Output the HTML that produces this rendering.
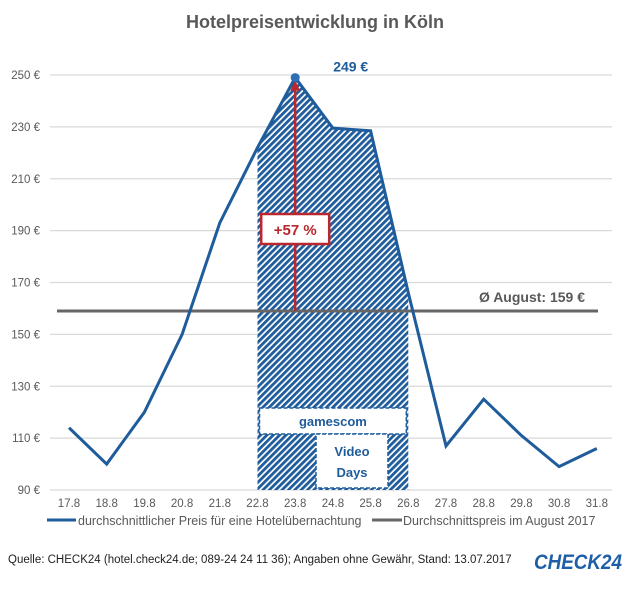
<!DOCTYPE html>
<html><head><meta charset="utf-8"><style>
body{margin:0;background:#fff;width:630px;height:586px;overflow:hidden;font-family:"Liberation Sans",sans-serif}
</style></head><body>
<svg width="630" height="586" xmlns="http://www.w3.org/2000/svg" font-family="Liberation Sans, sans-serif">
<defs>
<pattern id="hatch" width="4.5" height="4.5" patternUnits="userSpaceOnUse" patternTransform="rotate(45)">
<rect width="4.5" height="4.5" fill="#fff"/>
<rect width="2.8" height="4.5" fill="#1f5c9b"/>
</pattern>
</defs>
<text x="315" y="28" text-anchor="middle" font-size="18" font-weight="bold" fill="#595959">Hotelpreisentwicklung in Köln</text>
<g id="grid"></g>
<g id="area"></g>
<g id="marks"></g>
<g>
<line x1="47" y1="520" x2="76" y2="520" stroke="#1f5c9b" stroke-width="3"/>
<text x="78" y="525" font-size="12.5" fill="#595959">durchschnittlicher Preis für eine Hotelübernachtung</text>
<line x1="372" y1="520" x2="402" y2="520" stroke="#666" stroke-width="3"/>
<text x="403" y="525" font-size="12.5" fill="#595959">Durchschnittspreis im August 2017</text>
</g>
<text x="8" y="563" font-size="11.5" fill="#222">Quelle: CHECK24 (hotel.check24.de; 089-24 24 11 36); Angaben ohne Gewähr, Stand: 13.07.2017</text>
<text x="534" y="569" font-size="21" font-weight="bold" font-style="italic" fill="#1f5fa8" textLength="88" lengthAdjust="spacingAndGlyphs">CHECK24</text>
</svg>
<script>
const categories=["17.8","18.8","19.8","20.8","21.8","22.8","23.8","24.8","25.8","26.8","27.8","28.8","29.8","30.8","31.8"];
const prices=[114,100,120,150,193,222,249,229.5,228.5,166,107,125,111,99,106];
const yTicks=[90,110,130,150,170,190,210,230,250];
const average=159;
const eventStart=5, eventEnd=9, peakIndex=6;
const NS="http://www.w3.org/2000/svg";
const x=i=>69+i*37.7;
const y=v=>490-(v-90)*(415/160);
function mk(tag,attrs,parent,text){const e=document.createElementNS(NS,tag);for(const k in attrs)e.setAttribute(k,attrs[k]);if(text!=null)e.textContent=text;parent.appendChild(e);return e;}
const grid=document.getElementById('grid'),area=document.getElementById('area'),marks=document.getElementById('marks');
yTicks.forEach(t=>{
 const l=mk('line',{x1:50,x2:612,y1:y(t),y2:y(t),stroke:'#d9d9d9','stroke-width':1.2},grid);
 
 
 const tx=mk('text',{x:40,y:y(t)+4,'text-anchor':'end','font-size':11.5,fill:'#595959'},grid,t+' €');
 
 
});
categories.forEach((c,i)=>{
 const tx=mk('text',{x:x(i),y:507,'text-anchor':'middle','font-size':11.5,fill:'#595959'},grid,c);
 
 
});
let pts=[];for(let i=eventStart;i<=eventEnd;i++)pts.push(x(i)+','+y(prices[i]));
pts.push(x(eventEnd)+','+y(90));pts.push(x(eventStart)+','+y(90));
const poly=mk('polygon',{points:pts.join(' '),fill:'url(#hatch)'},area);


const gx1=x(eventStart)+2,gx2=x(eventEnd)-2;
const g1=mk('rect',{x:gx1,y:408,width:gx2-gx1,height:26,fill:'#fff',stroke:'#1f5c9b','stroke-width':1.5,'stroke-dasharray':'4 2'},area);


const t1=mk('text',{x:(gx1+gx2)/2,y:426,'text-anchor':'middle','font-size':13,'font-weight':'bold',fill:'#1f5c9b'},area,'gamescom');


const g2=mk('rect',{x:316,y:434,width:72,height:54,fill:'#fff',stroke:'#1f5c9b','stroke-width':1.5,'stroke-dasharray':'4 2'},area);


const t2=mk('text',{x:352,y:456,'text-anchor':'middle','font-size':13,'font-weight':'bold',fill:'#1f5c9b'},area,'Video');


const t3=mk('text',{x:352,y:477,'text-anchor':'middle','font-size':13,'font-weight':'bold',fill:'#1f5c9b'},area,'Days');


const avg=mk('line',{x1:57,x2:598,y1:y(average),y2:y(average),stroke:'#666','stroke-width':3},marks);


const at=mk('text',{x:585,y:y(average)-9,'text-anchor':'end','font-size':14,'font-weight':'bold',fill:'#595959'},marks,'Ø August: '+average+' €');


const line=mk('polyline',{points:prices.map((p,i)=>x(i)+','+y(p)).join(' '),fill:'none',stroke:'#1f5c9b','stroke-width':3,'stroke-linejoin':'miter'},marks);


const px=x(peakIndex);
const ar=mk('line',{x1:px,x2:px,y1:y(average),y2:y(prices[peakIndex])+10,stroke:'#b8282e','stroke-width':2.5},marks);


const ah=mk('polygon',{points:`${px},${y(prices[peakIndex])+3} ${px-5},${y(prices[peakIndex])+13} ${px+5},${y(prices[peakIndex])+13}`,fill:'#b8282e'},marks);


const pb=mk('rect',{x:px-34,y:214,width:68,height:30,fill:'#fff',stroke:'#b8282e','stroke-width':2.5},marks);


const pt=mk('text',{x:px,y:235,'text-anchor':'middle','font-size':15,'font-weight':'bold',fill:'#b8282e'},marks,'+57 %');


const pc=mk('circle',{cx:px,cy:y(prices[peakIndex]),r:4.5,fill:'#2f6db5'},marks);


const pl=mk('text',{x:px+38,y:y(prices[peakIndex])-6,'font-size':14,'font-weight':'bold',fill:'#1f5c9b'},marks,'249 €');


</script>
</body></html>
